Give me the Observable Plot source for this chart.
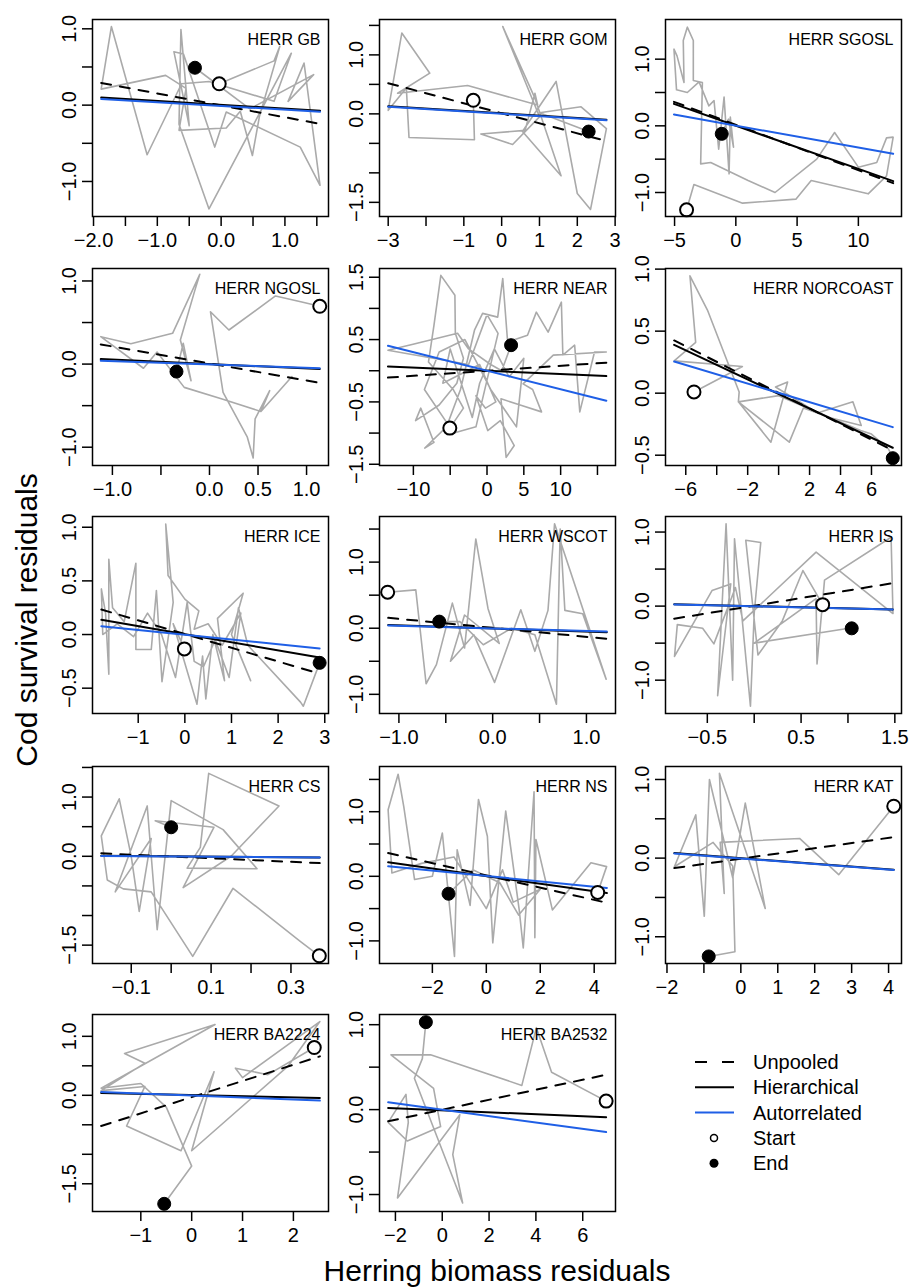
<!DOCTYPE html>
<html><head><meta charset="utf-8">
<script src="https://cdn.jsdelivr.net/npm/d3@7"></script>
<script src="https://cdn.jsdelivr.net/npm/@observablehq/plot@0.6"></script>
<style>
html,body{margin:0;padding:0;background:#fff;}
#fig{position:relative;width:910px;height:1287px;overflow:hidden;background:#fff;font-family:"Liberation Sans",Arial,Helvetica,sans-serif;}
</style></head><body><div id="fig"></div>
<script>
// ---------- DATA ----------
const panelNames = ["HERR GB","HERR GOM","HERR SGOSL","HERR NGOSL","HERR NEAR","HERR NORCOAST","HERR ICE","HERR WSCOT","HERR IS","HERR CS","HERR NS","HERR KAT","HERR BA2224","HERR BA2532"];

// gray trajectories [herring residual, cod residual]; first point = Start, last = End
const pathGB = [[-0.03,0.28],[0.83,0.58],[0.92,0.77],[0.6,-0.15],[0.49,-0.66],[0.30,-0.08],[0.08,-0.30],[-0.66,-0.33],[-0.55,0.22],[-0.87,0.39],[-1.88,0.21],[-1.72,1.03],[-1.16,-0.65],[-0.62,0.28],[-0.19,0.31],[0.83,0.05],[1.10,0.68],[-0.19,-1.36],[-0.66,-0.25],[-0.63,0.99],[-0.50,-0.27],[-0.74,0.70],[-0.59,0.67],[-0.10,-0.55],[0.08,-0.09],[1.24,-0.55],[1.55,-1.05],[1.30,0.55],[1.05,0.05],[1.45,0.40],[0.45,-0.05],[-0.41,0.49]];
const pathGOM = [[-0.75,0.23],[-0.72,-0.44],[-2.45,-0.40],[-2.52,0.44],[-3.0,0.06],[-2.64,1.37],[-1.9,0.69],[-2.75,0.35],[-0.90,0.48],[0.95,0.15],[0.88,0.35],[0.62,-0.28],[-0.55,-0.34],[0.29,-0.52],[1.0,-0.05],[0.03,1.48],[0.87,0.28],[1.57,-1.05],[0.55,-0.30],[1.44,0.55],[2.0,-1.35],[2.35,-1.62],[2.77,-0.25],[2.1,0.12],[1.0,0.02],[2.30,-0.30]];
const pathSGOSL = [[-4.02,-1.26],[-3.42,-0.88],[0.55,-1.16],[4.9,-1.1],[6.15,-0.82],[10.8,-1.02],[12.3,-0.75],[12.84,-0.17],[12.3,-0.18],[11.5,-0.55],[10.0,-0.62],[8.06,-0.10],[6.6,-0.50],[3.2,-1.0],[1.0,-0.82],[-2.05,-0.55],[-2.87,-0.57],[-2.73,0.65],[-3.47,0.68],[-3.47,1.28],[-3.96,1.48],[-4.29,1.28],[-4.23,0.65],[-4.8,1.05],[-5.05,1.15],[-4.84,0.54],[-3.96,0.50],[-3.0,0.66],[-2.2,0.30],[-1.78,0.38],[-1.4,-0.35],[-0.96,0.43],[-0.55,-0.72],[-0.45,0.13],[-0.19,-0.32],[-0.6,0.1],[-1.15,-0.12]];
const pathNGOSL = [[1.136,0.695],[0.94,0.75],[0.68,0.82],[0.2,0.41],[0.01,0.63],[0.14,-0.34],[0.39,-0.88],[0.45,-1.13],[0.47,-0.66],[0.62,-0.32],[0.53,-0.57],[0.85,-0.15],[0.53,-0.57],[0.13,-0.42],[-0.26,-0.28],[-0.54,0.145],[-0.68,-0.05],[-1.12,0.33],[-0.81,0.245],[-0.38,0.37],[-0.10,1.08],[-0.15,0.89],[-0.30,0.29],[-0.19,-0.20],[-0.27,0.25],[-0.34,-0.09]];
const pathNEAR = [[-5.05,-0.92],[-3.2,-0.6],[-4.6,-0.3],[-7.95,0.14],[-7.2,0.73],[-6.27,1.53],[-4.36,1.21],[-4.3,0.6],[-3.2,0.2],[-4.1,-0.2],[-6.5,-0.55],[-9.7,-0.8],[-9.0,-0.6],[-7.2,-1.15],[-8.45,-1.24],[-5.5,-0.9],[-3.6,-0.3],[-1.7,0.65],[-0.6,0.92],[1.45,0.86],[2.14,1.48],[2.8,0.46],[5.5,0.57],[6.7,0.94],[8.3,0.62],[10.1,1.1],[10.3,0.25],[11.9,0.41],[12.6,-0.66],[14.6,0.30],[16.2,0.30],[9.0,0.25],[4.9,-0.21],[6.2,-0.3],[7.4,-0.66],[4.5,-0.55],[1.9,-0.45],[2.6,-1.39],[3.7,-1.2],[1.8,-0.8],[0.1,-0.96],[-1.5,-0.4],[-0.2,-0.6],[1.2,-0.5],[-1.0,0.1],[-6.0,-0.2],[-5.0,0.35],[-2.0,-0.75],[-1.0,-0.2],[1.0,0.35],[3.0,-0.1],[5.0,0.2],[4.0,-0.9],[0.5,-0.3],[-3.0,0.5],[-6.5,0.3],[-8.5,-0.3],[-4.5,-1.0],[-1.5,-0.9],[1.5,0.6],[0.0,0.9],[-2.5,0.1],[-13.45,0.33],[-9.9,0.43],[-4.0,0.6],[-2.5,0.35],[0.5,0.1],[2.0,0.0],[3.27,0.41]];
const pathNORCOAST = [[-5.47,0.01],[-2.34,0.215],[-6.75,0.26],[-5.36,0.41],[-5.73,0.946],[-4.6,0.67],[-2.55,0.01],[-2.6,-0.07],[-0.5,-0.395],[0.58,0.09],[-0.2,0.05],[1.5,-0.08],[2.5,-0.16],[4.8,-0.07],[5.34,-0.26],[3.4,-0.2],[1.6,-0.12],[0.69,-0.395],[-2.6,-0.07],[0.0,-0.02],[3.0,-0.18],[5.3,-0.3],[6.0,-0.33],[7.1,-0.45],[7.375,-0.524]];
const pathICE = [[-0.01,-0.134],[-0.25,0.10],[0.26,-0.65],[0.38,-0.2],[0.45,-0.6],[0.6,0.0],[0.85,-0.43],[0.7,0.15],[1.25,0.385],[1.0,0.0],[1.41,-0.43],[1.1,-0.1],[1.2,0.2],[0.8,-0.1],[0.5,0.1],[0.2,0.05],[0.3,0.22],[0.0,0.33],[-0.36,0.55],[-0.41,1.03],[-0.25,0.3],[-0.49,-0.44],[-0.61,0.41],[-0.72,-0.14],[-1.05,-0.14],[-1.05,0.665],[-1.3,0.12],[-1.55,0.25],[-1.63,0.70],[-1.63,-0.37],[-1.7,0.2],[-1.79,0.425],[-1.76,0.0],[-1.45,0.1],[-1.1,-0.02],[-0.8,0.2],[-0.5,0.0],[-0.2,-0.4],[0.05,0.3],[0.2,-0.25],[0.4,-0.3],[0.65,-0.05],[0.95,-0.4],[1.15,0.25],[1.35,-0.1],[2.48,-0.63],[2.54,-0.668],[2.89,-0.264]];
const pathWSCOT = [[-1.12,0.545],[-0.82,0.58],[-0.71,-0.84],[-0.6,-0.55],[-0.43,0.38],[-0.3,-0.3],[-0.18,1.35],[-0.05,0.3],[0.07,-0.23],[-0.3,0.2],[-0.45,-0.5],[-0.2,-0.1],[0.02,-0.82],[0.30,0.28],[0.45,-0.35],[0.59,0.27],[0.66,1.58],[1.21,-0.77],[0.96,0.22],[0.77,0.27],[0.72,1.5],[0.68,-1.15],[0.45,-0.1],[0.2,0.0],[-0.1,-0.25],[-0.35,0.1],[-0.57,0.10]];
const pathIS = [[0.73,0.02],[0.52,0.48],[0.3,-0.2],[0.04,-0.66],[-0.09,0.89],[0.07,0.86],[0.0,-0.1],[-0.04,-1.35],[-0.21,0.91],[-0.23,-1.0],[-0.30,1.11],[-0.39,-1.21],[-0.25,0.3],[-0.45,0.21],[-0.85,-0.68],[-0.82,-0.25],[-0.55,-0.3],[-0.43,-0.51],[-0.2,0.25],[-0.12,-0.2],[0.66,0.73],[1.48,-0.1],[1.46,0.93],[0.75,0.35],[0.67,-0.78],[0.66,0.1],[0.0,-0.5],[0.96,-0.31],[1.04,-0.30]];
const pathCS = [[0.371,-1.68],[0.324,-1.44],[0.155,-0.54],[0.054,-1.69],[-0.05,-0.6],[-0.12,-0.55],[-0.16,-0.4],[-0.175,0.345],[-0.13,0.97],[-0.10,0.0],[-0.08,-0.93],[-0.05,0.3],[-0.14,-0.6],[-0.06,0.85],[-0.035,-1.24],[0.0,0.94],[0.13,0.45],[0.215,-0.21],[0.04,-0.2],[0.073,0.15],[0.094,1.40],[0.27,0.85],[0.15,0.0],[0.03,-0.53],[0.107,0.49],[-0.04,0.6],[0.0,0.49]];
const pathNS = [[4.13,-0.25],[4.46,0.15],[3.88,0.21],[2.45,-0.52],[1.84,0.57],[1.8,-0.95],[1.77,1.31],[1.37,-1.11],[1.22,-0.52],[0.72,1.01],[0.24,-1.03],[0.04,0.62],[-0.29,1.19],[-0.6,-0.45],[-1.08,0.41],[-1.18,-1.24],[-1.63,0.67],[-2.0,0.0],[-2.66,-0.05],[-3.06,1.08],[-3.27,1.58],[-3.64,1.03],[-3.5,0.05],[-2.4,0.2],[-1.2,0.3],[0.0,-0.5],[0.6,0.1],[1.0,-0.4],[2.0,-0.2],[1.2,-0.6],[0.5,-0.1],[-0.5,0.1],[-1.40,-0.27]];
const pathKAT = [[4.14,0.66],[2.65,-0.21],[1.59,0.25],[-0.56,0.2],[-0.45,-0.45],[-0.58,1.08],[0.66,-0.64],[0.12,0.70],[-0.22,-0.25],[-0.85,1.0],[-0.99,-0.74],[-1.22,0.55],[-1.8,-0.11],[-0.75,0.2],[-0.22,-0.1],[-0.16,-1.19],[-0.87,-1.25]];
const pathBA2224 = [[2.41,0.81],[1.5,0.35],[0.86,0.46],[1.0,0.3],[2.52,1.25],[1.9,0.5],[0.0,-0.94],[0.44,0.40],[-0.21,-0.94],[-1.28,-0.52],[-0.92,0.15],[-1.78,0.08],[-0.92,0.545],[-1.32,0.71],[0.46,1.2],[-1.78,0.12],[-1.0,0.2],[-0.5,-0.2],[0.0,-1.2],[-0.54,-1.84]];
const pathBA2532 = [[7.0,0.1],[4.67,0.44],[4.02,0.965],[3.4,0.285],[-0.5,0.645],[-2.19,0.645],[-0.37,0.25],[-0.07,-0.2],[-1.49,-0.37],[-2.31,-0.15],[-1.55,0.18],[-1.45,-0.15],[-1.91,-1.04],[0.75,-0.06],[0.45,-0.53],[0.87,-1.1],[-1.19,0.37],[-0.85,0.6],[-0.70,1.03]];
const paths = [pathGB,pathGOM,pathSGOSL,pathNGOSL,pathNEAR,pathNORCOAST,pathICE,pathWSCOT,pathIS,pathCS,pathNS,pathKAT,pathBA2224,pathBA2532];

// regression lines: x extent, and y at both ends for each model
const fitX      = [[-1.88,1.55],[-3.0,2.77],[-5.05,12.84],[-1.12,1.136],[-13.45,16.2],[-6.75,7.375],[-1.79,2.89],[-1.114,1.217],[-0.853,1.478],[-0.175,0.372],[-3.64,4.47],[-1.8,4.14],[-1.78,2.52],[-2.31,7.0]];
const unpooledY = [[0.29,-0.245],[0.52,-0.46],[0.36,-0.86],[0.237,-0.225],[-0.11,0.13],[0.425,-0.46],[0.233,-0.365],[0.157,-0.16],[-0.17,0.31],[0.05,-0.115],[0.36,-0.41],[-0.127,0.267],[-0.52,0.66],[-0.137,0.41]];
const hierY     = [[0.10,-0.075],[0.13,-0.10],[0.33,-0.83],[0.06,-0.06],[0.07,-0.086],[0.39,-0.44],[0.137,-0.215],[0.05,-0.06],[0.025,-0.045],[0.01,-0.02],[0.216,-0.26],[0.064,-0.148],[0.04,-0.045],[0.02,-0.09]];
const autoY     = [[0.08,-0.085],[0.12,-0.11],[0.17,-0.42],[0.04,-0.05],[0.40,-0.48],[0.255,-0.274],[0.078,-0.13],[0.04,-0.05],[0.023,-0.045],[0.005,-0.02],[0.155,-0.18],[0.06,-0.15],[0.056,-0.09],[0.086,-0.265]];

// axis ranges
const xDomains = [[-2.016,1.683],[-3.23,3.01],[-5.74,13.52],[-1.205,1.226],[-14.6,17.45],[-7.31,7.94],[-1.98,3.08],[-1.207,1.31],[-0.946,1.571],[-0.197,0.394],[-3.96,4.79],[-2.04,4.35],[-1.95,2.69],[-2.68,7.40]];
const yDomains = [[-1.459,1.122],[-1.74,1.60],[-1.36,1.595],[-1.22,1.15],[-1.52,1.64],[-0.583,1.005],[-0.736,1.10],[-1.29,1.69],[-1.45,1.21],[-1.81,1.516],[-1.35,1.70],[-1.34,1.165],[-1.97,1.37],[-1.2,1.12]];

// ticks and their labels ("" = tick without label)
const xTicks = [[-2,-1.5,-1,-0.5,0,0.5,1,1.5],[-3,-2,-1,0,1,2,3],[-5,0,5,10],[-1,-0.5,0,0.5,1],[-10,-5,0,5,10,15],[-6,-4,-2,0,2,4,6],[-1,0,1,2,3],[-1,-0.5,0,0.5,1],[-0.5,0,0.5,1,1.5],[-0.1,0,0.1,0.2,0.3],[-2,0,2,4],[-2,-1,0,1,2,3,4],[-1,0,1,2],[-2,0,2,4,6]];
const xTickLabels = [["−2.0","","−1.0","","0.0","","1.0",""],["−3","","−1","0","1","2","3"],["−5","0","5","10"],["−1.0","","0.0","0.5","1.0"],["−10","","0","5","10",""],["−6","","−2","","2","4","6"],["−1","0","1","2","3"],["−1.0","","0.0","","1.0"],["−0.5","","0.5","","1.5"],["−0.1","","0.1","","0.3"],["−2","0","2","4"],["−2","","0","1","2","3","4"],["−1","0","1","2"],["−2","0","2","4","6"]];
const yTicks = [[-1,-0.5,0,0.5,1],[-1.5,-1,-0.5,0,0.5,1,1.5],[-1,-0.5,0,0.5,1],[-1,-0.5,0,0.5,1],[-1.5,-1,-0.5,0,0.5,1,1.5],[-0.5,0,0.5,1],[-0.5,0,0.5,1],[-1,-0.5,0,0.5,1,1.5],[-1,-0.5,0,0.5,1],[-1.5,-1,-0.5,0,0.5,1,1.5],[-1,-0.5,0,0.5,1,1.5],[-1,-0.5,0,0.5,1],[-1.5,-1,-0.5,0,0.5,1],[-1,-0.5,0,0.5,1]];
const yTickLabels = [["−1.0","","0.0","","1.0"],["−1.5","","","0.0","","1.0",""],["−1.0","","0.0","","1.0"],["−1.0","","0.0","","1.0"],["−1.5","","−0.5","","0.5","","1.5"],["−0.5","0.0","0.5","1.0"],["−0.5","0.0","0.5","1.0"],["−1.0","","0.0","","1.0",""],["−1.0","","0.0","","1.0"],["−1.5","","","0.0","","1.0",""],["−1.0","","0.0","","1.0",""],["−1.0","","0.0","","1.0"],["−1.5","","","0.0","","1.0"],["−1.0","","0.0","","1.0"]];

const legendLabels = ["Unpooled","Hierarchical","Autorrelated","Start","End"];
const xTitle = "Herring biomass residuals";
const yTitle = "Cod survival residuals";

// ---------- DRAWING ----------
const FONT = "'Liberation Sans', Arial, Helvetica, sans-serif";
const GRAY = "#aaaaaa", BLUE = "#1f5fe6";
const fig = document.getElementById("fig");
const colLeft = [92, 379, 665];
const rowTop = [19, 268, 516, 766, 1014];
const boxW = 236, boxH = 197;
const M = {l: 45, r: 6, t: 4, b: 44};

// overlay for titles & legend
const ov = d3.select(fig).append("svg")
  .attr("width", 910).attr("height", 1287)
  .style("position", "absolute").style("left", "0px").style("top", "0px")
  .style("font-family", FONT);
ov.append("text").attr("x", 497).attr("y", 1281).attr("text-anchor", "middle")
  .attr("font-size", 30).attr("fill", "black").text(xTitle);
ov.append("text").attr("transform", "translate(37,620) rotate(-90)").attr("text-anchor", "middle")
  .attr("font-size", 30).attr("fill", "black").text(yTitle);

const lg = ov.append("g");
const lgY = i => 1062 + i * 25.3;
lg.append("line").attr("x1", 695).attr("x2", 734).attr("y1", lgY(0)).attr("y2", lgY(0))
  .attr("stroke", "black").attr("stroke-width", 2).attr("stroke-dasharray", "12,15");
lg.append("line").attr("x1", 695).attr("x2", 734).attr("y1", lgY(1)).attr("y2", lgY(1))
  .attr("stroke", "black").attr("stroke-width", 2);
lg.append("line").attr("x1", 695).attr("x2", 734).attr("y1", lgY(2)).attr("y2", lgY(2))
  .attr("stroke", BLUE).attr("stroke-width", 2);
lg.append("circle").attr("cx", 714).attr("cy", lgY(3)).attr("r", 3.5)
  .attr("fill", "white").attr("stroke", "black").attr("stroke-width", 1.5);
lg.append("circle").attr("cx", 714).attr("cy", lgY(4)).attr("r", 4.5).attr("fill", "black");
legendLabels.forEach((t, i) => {
  lg.append("text").attr("x", 753).attr("y", lgY(i) + 7).attr("font-size", 20).attr("fill", "black").text(t);
});

panelNames.forEach((name, i) => {
  const col = i % 3, row = Math.floor(i / 3);
  const pts = paths[i].map(([x, y]) => ({x, y}));
  const [x0, x1] = fitX[i];
  const seg = ys => [{x: x0, y: ys[0]}, {x: x1, y: ys[1]}];
  const xl = new Map(xTicks[i].map((t, j) => [t, xTickLabels[i][j]]));
  const yl = new Map(yTicks[i].map((t, j) => [t, yTickLabels[i][j]]));
  const svg = Plot.plot({
    width: M.l + boxW + M.r,
    height: M.t + boxH + M.b,
    marginLeft: M.l, marginRight: M.r, marginTop: M.t, marginBottom: M.b,
    x: {domain: xDomains[i]},
    y: {domain: yDomains[i]},
    style: {background: "transparent", fontFamily: FONT, overflow: "visible", color: "black"},
    marks: [
      Plot.line(pts, {x: "x", y: "y", stroke: GRAY, strokeWidth: 1.6}),
      Plot.line(seg(unpooledY[i]), {x: "x", y: "y", stroke: "black", strokeWidth: 2, strokeDasharray: "10,9"}),
      Plot.line(seg(hierY[i]), {x: "x", y: "y", stroke: "black", strokeWidth: 2}),
      Plot.line(seg(autoY[i]), {x: "x", y: "y", stroke: BLUE, strokeWidth: 2}),
      Plot.dot([pts[0]], {x: "x", y: "y", r: 6.5, fill: "white", stroke: "black", strokeWidth: 2}),
      Plot.dot([pts[pts.length - 1]], {x: "x", y: "y", r: 6.5, fill: "black", stroke: "black", strokeWidth: 1}),
      Plot.frame({stroke: "black", strokeWidth: 1.5}),
      Plot.axisX({ticks: xTicks[i], tickFormat: d => xl.get(d) ?? "", tickSize: 10, tickPadding: 6,
        fontSize: 20, label: null, strokeWidth: 1.5}),
      Plot.axisY({ticks: yTicks[i], tickFormat: d => yl.get(d) ?? "", tickSize: 10, tickPadding: 7,
        tickRotate: -90, textAnchor: "middle", lineAnchor: "bottom", fontSize: 20, label: null, strokeWidth: 1.5}),
      Plot.text([name], {text: d => d, frameAnchor: "top-right", textAnchor: "end", lineAnchor: "top",
        dx: -8, dy: 14, fontSize: 16, fontWeight: "normal", fill: "black"})
    ]
  });
  svg.style.position = "absolute";
  svg.style.left = (colLeft[col] - M.l) + "px";
  svg.style.top = (rowTop[row] - M.t) + "px";
  svg.style.overflow = "visible";
  fig.appendChild(svg);
});
</script>
</body></html>
